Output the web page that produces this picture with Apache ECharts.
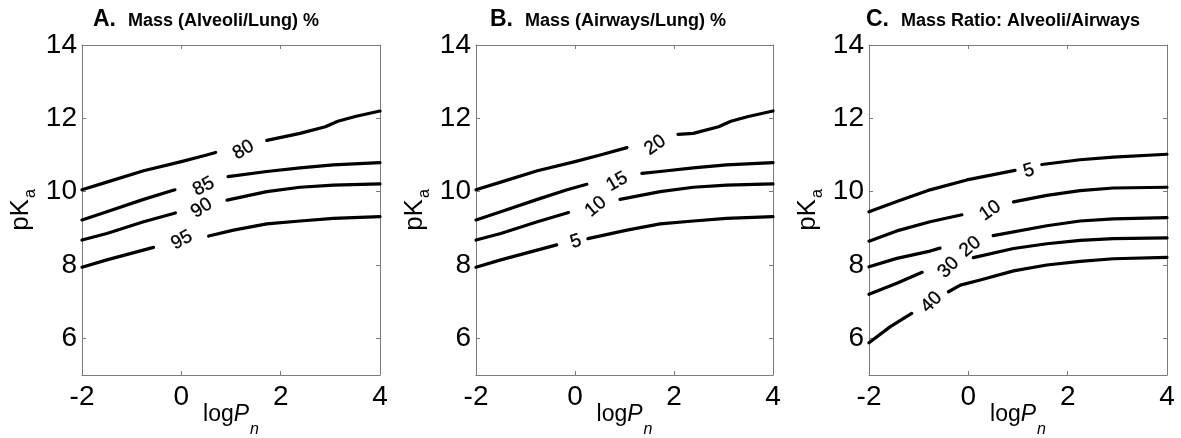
<!DOCTYPE html>
<html>
<head>
<meta charset="utf-8">
<script src="https://cdn.jsdelivr.net/npm/echarts@6/dist/echarts.min.js"></script>
<style>
html,body{margin:0;padding:0;background:#fff;}
#chart{width:1181px;height:438px;}
</style>
</head>
<body>
<div id="chart"></div>
<script>
// ---------- data ----------
const xTicks = [-2, 0, 2, 4];
const yTicks = [6, 8, 10, 12, 14];

const panelLetters = ['A.', 'B.', 'C.'];
const panelTitles = ['Mass (Alveoli/Lung) %', 'Mass (Airways/Lung) %', 'Mass Ratio: Alveoli/Airways'];

// Panel A contours (levels 80, 85, 90, 95); null = gap for inline label
const levelsA = ['80', '85', '90', '95'];
const lineA80 = [[-2,10.05],[-1.5,10.26],[-0.76,10.57],[0,10.82],[0.51,11.0],[0.69,11.07],null,[1.72,11.4],[2.39,11.59],[2.9,11.77],[3.15,11.92],[3.5,12.05],[4,12.2]];
const lineA85 = [[-2,9.23],[-1.5,9.45],[-0.76,9.79],[-0.13,10.05],null,[0.94,10.41],[1.72,10.55],[2.39,10.65],[3.06,10.73],[4,10.79]];
const lineA90 = [[-2,8.68],[-1.5,8.86],[-0.76,9.18],[-0.12,9.42],null,[0.92,9.77],[1.72,10.0],[2.39,10.12],[3.06,10.18],[4,10.21]];
const lineA95 = [[-2,7.94],[-1.5,8.14],[-0.56,8.48],null,[0.55,8.79],[1.05,8.95],[1.72,9.12],[2.39,9.2],[3.06,9.27],[4,9.32]];
const labelPosA = [[1.25,11.14],[0.45,10.14],[0.41,9.55],[0.01,8.68]];

// Panel B contours (levels 20, 15, 10, 5)
const levelsB = ['20', '15', '10', '5'];
const lineB20 = [[-2,10.05],[-1.5,10.26],[-0.76,10.57],[0,10.82],[0.51,11.0],[1.05,11.2],null,[2.08,11.56],[2.39,11.59],[2.9,11.77],[3.15,11.92],[3.5,12.05],[4,12.2]];
const lineB15 = [[-2,9.23],[-1.5,9.45],[-0.76,9.79],[-0.16,10.05],[0.24,10.2],null,[1.35,10.5],[1.72,10.55],[2.39,10.65],[3.06,10.73],[4,10.79]];
const lineB10 = [[-2,8.68],[-1.5,8.86],[-0.76,9.18],[-0.13,9.43],null,[0.91,9.79],[1.72,10.0],[2.39,10.12],[3.06,10.18],[4,10.21]];
const lineB5  = [[-2,7.94],[-1.5,8.14],[-0.37,8.55],null,[0.26,8.72],[1.05,8.95],[1.72,9.12],[2.39,9.2],[3.06,9.27],[4,9.32]];
const labelPosB = [[1.62,11.27],[0.85,10.27],[0.42,9.59],[0.02,8.64]];

// Panel C contours (levels 5, 10, 20, 30, 40)
const levelsC = ['5', '10', '20', '30', '40'];
const lineC5  = [[-2,9.45],[-1.44,9.73],[-0.77,10.05],[-0.03,10.32],[0.94,10.58],null,[1.48,10.74],[2.25,10.87],[2.92,10.94],[4,11.02]];
const lineC10 = [[-2,8.65],[-1.44,8.93],[-0.77,9.18],[-0.13,9.37],null,[0.91,9.72],[1.58,9.9],[2.25,10.03],[2.92,10.1],[4,10.12]];
const lineC20 = [[-2,7.95],[-1.44,8.18],[-0.77,8.38],[-0.57,8.46],null,[0.5,8.8],[1.58,9.07],[2.25,9.2],[2.92,9.26],[4,9.29]];
const lineC30 = [[-2,7.2],[-1.44,7.5],[-0.93,7.8],null,[0.1,8.2],[0.91,8.45],[1.58,8.58],[2.25,8.67],[2.92,8.72],[4,8.74]];
const lineC40 = [[-2,5.88],[-1.57,6.32],[-1.14,6.68],null,[-0.4,7.27],[-0.16,7.45],[0.24,7.59],[0.91,7.84],[1.58,8.0],[2.25,8.1],[2.92,8.17],[4,8.21]];
const labelPosC = [[1.22,10.57],[0.44,9.48],[0.04,8.5],[-0.4,7.93],[-0.74,6.98]];

// ---------- styles / layout ----------
const labelAnglesA = [30, 28, 32, 28];
const labelAnglesB = [35, 30, 40, 18];
const labelAnglesC = [16, 35, 40, 45, 45];

const panels = [
  { lines: [lineA80, lineA85, lineA90, lineA95], levels: levelsA, labelPos: labelPosA, angles: labelAnglesA },
  { lines: [lineB20, lineB15, lineB10, lineB5], levels: levelsB, labelPos: labelPosB, angles: labelAnglesB },
  { lines: [lineC5, lineC10, lineC20, lineC30, lineC40], levels: levelsC, labelPos: labelPosC, angles: labelAnglesC }
];

const gridBoxes = [
  { left: 82, top: 45, width: 298, height: 330 },
  { left: 476, top: 45, width: 297, height: 330 },
  { left: 869, top: 45, width: 298, height: 330 }
];
const titleLefts = [88, 485, 861];

const FONT = '"Liberation Sans", Arial, Helvetica, sans-serif';
const frameColor = '#7a7a7a';

const grid = [], xAxis = [], yAxis = [], series = [], title = [];

gridBoxes.forEach((g, i) => {
  grid.push(Object.assign({ show: false, containLabel: false, outerBoundsMode: 'none' }, g));
  // bottom x axis
  xAxis.push({
    type: 'value', gridIndex: i, min: -2, max: 4, position: 'bottom',
    axisLine: { show: true, onZero: false, lineStyle: { color: frameColor, width: 1 } },
    axisTick: { show: true, inside: true, length: 4, customValues: xTicks, lineStyle: { color: frameColor } },
    axisLabel: { show: true, customValues: xTicks, color: '#000', fontSize: 28, fontFamily: FONT, margin: 8 },
    splitLine: { show: false },
    name: '{n|log}{i|P}{s|n}', nameLocation: 'middle', nameGap: 25, nameMoveOverlap: false,
    nameTextStyle: {
      fontFamily: FONT, color: '#000',
      rich: {
        n: { fontSize: 23, fontFamily: FONT, color: '#000', lineHeight: 30 },
        i: { fontSize: 23, fontFamily: FONT, color: '#000', fontStyle: 'italic', lineHeight: 30 },
        s: { fontSize: 16, fontFamily: FONT, color: '#000', fontStyle: 'italic', lineHeight: 16, verticalAlign: 'bottom', padding: [0, 0, -8, 1] }
      }
    }
  });
  // top mirror
  xAxis.push({
    type: 'value', gridIndex: i, min: -2, max: 4, position: 'top',
    axisLine: { show: true, onZero: false, lineStyle: { color: frameColor, width: 1 } },
    axisTick: { show: true, inside: true, length: 4, customValues: xTicks, lineStyle: { color: frameColor } },
    axisLabel: { show: false }, splitLine: { show: false }
  });
  // left y axis
  yAxis.push({
    type: 'value', gridIndex: i, min: 5, max: 14, position: 'left',
    axisLine: { show: true, onZero: false, lineStyle: { color: frameColor, width: 1 } },
    axisTick: { show: true, inside: true, length: 4, customValues: yTicks, lineStyle: { color: frameColor } },
    axisLabel: { show: true, customValues: yTicks, color: '#000', fontSize: 28, fontFamily: FONT, margin: 5 },
    splitLine: { show: false },
    name: '{n|pK}{s|a}', nameLocation: 'middle', nameGap: 47, nameRotate: 90, nameMoveOverlap: false,
    nameTextStyle: {
      fontFamily: FONT, color: '#000',
      rich: {
        n: { fontSize: 26, fontFamily: FONT, color: '#000', lineHeight: 28 },
        s: { fontSize: 16, fontFamily: FONT, color: '#000', lineHeight: 16, verticalAlign: 'bottom', padding: [0, 0, -4, 1] }
      }
    }
  });
  // right mirror
  yAxis.push({
    type: 'value', gridIndex: i, min: 5, max: 14, position: 'right',
    axisLine: { show: true, onZero: false, lineStyle: { color: frameColor, width: 1 } },
    axisTick: { show: true, inside: true, length: 4, customValues: yTicks, lineStyle: { color: frameColor } },
    axisLabel: { show: false }, splitLine: { show: false }
  });

  title.push({
    text: '{a|' + panelLetters[i] + '}{b|' + panelTitles[i] + '}',
    left: titleLefts[i], top: 3,
    textStyle: {
      rich: {
        a: { fontSize: 23, fontWeight: 'bold', fontFamily: FONT, color: '#000', padding: [0, 12, 0, 0] },
        b: { fontSize: 18, fontWeight: 'bold', fontFamily: FONT, color: '#000', verticalAlign: 'bottom', padding: [0, 0, 1, 0] }
      }
    }
  });

  const p = panels[i];
  p.lines.forEach((ln, k) => {
    series.push({
      type: 'line', xAxisIndex: 2 * i, yAxisIndex: 2 * i,
      data: ln, showSymbol: false, symbol: 'none', connectNulls: false,
      lineStyle: { color: '#000', width: 3.2, cap: 'round', join: 'round' },
      silent: true, animation: false, z: 3
    });
  });
  series.push({
    type: 'scatter', xAxisIndex: 2 * i, yAxisIndex: 2 * i,
    symbolSize: 0, silent: true, animation: false, z: 4,
    itemStyle: { color: '#000', opacity: 1 },
    label: { show: true, position: 'inside', fontSize: 19, fontFamily: FONT, color: '#000', opacity: 1,
      textBorderWidth: 0.3, textBorderColor: '#000' },
    data: p.labelPos.map((pos, k) => ({
      value: pos,
      itemStyle: { opacity: 1 },
      label: { rotate: p.angles[k], formatter: p.levels[k] }
    }))
  });
});

const chart = echarts.init(document.getElementById('chart'), null, { renderer: 'canvas' });
chart.setOption({
  backgroundColor: '#ffffff',
  animation: false,
  title: title,
  grid: grid,
  xAxis: xAxis,
  yAxis: yAxis,
  series: series
});
</script>
</body>
</html>
